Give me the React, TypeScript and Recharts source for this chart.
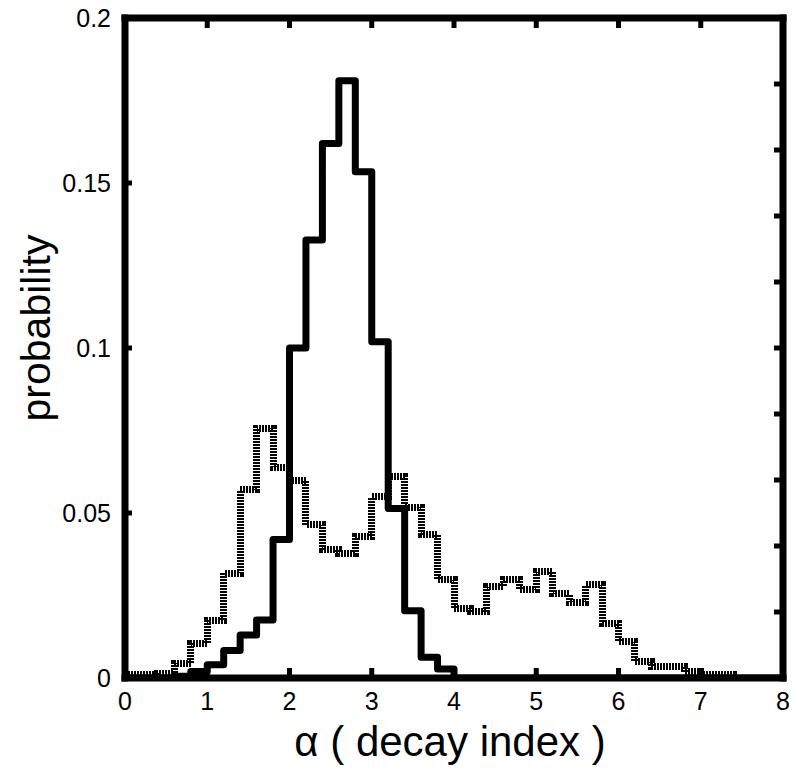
import React from 'react';
import { LineChart, Line, XAxis, YAxis, Label } from 'recharts';

// Histogram bin left edges (last value is the closing right edge)
const binStarts = [
  0, 0.2, 0.4, 0.6, 0.8, 1.0, 1.2, 1.4, 1.6, 1.8,
  2.0, 2.2, 2.4, 2.6, 2.8, 3.0, 3.2, 3.4, 3.6, 3.8,
  4.0, 4.2, 4.4, 4.6, 4.8, 5.0, 5.2, 5.4, 5.6, 5.8,
  6.0, 6.2, 6.4, 6.6, 6.8, 7.0, 7.2, 7.4, 7.6, 7.8, 8.0,
];

// Solid histogram probabilities
const solidProb = [
  0, 0, 0, 0.0005, 0.002, 0.004, 0.0083, 0.013, 0.0176, 0.042,
  0.1, 0.1327, 0.162, 0.181, 0.1534, 0.1019, 0.0514, 0.0204, 0.0063, 0.0027,
  0, 0, 0, 0, 0, 0, 0, 0, 0, 0,
  0, 0, 0, 0, 0, 0, 0, 0, 0, 0, 0,
];

// Dotted histogram probabilities
const dottedProb = [
  0.001, 0.001, 0.0015, 0.0044, 0.0105, 0.0175, 0.0317, 0.057, 0.0757, 0.0638,
  0.06, 0.0464, 0.0388, 0.0378, 0.0428, 0.0549, 0.061, 0.0517, 0.0434, 0.0297,
  0.0211, 0.0201, 0.0277, 0.0297, 0.0267, 0.0322, 0.0255, 0.0229, 0.0282, 0.0166,
  0.011, 0.0049, 0.0034, 0.0034, 0.0019, 0.001, 0.001, 0, 0, 0, 0,
];

const xTicks = [0, 1, 2, 3, 4, 5, 6, 7, 8];
const yTicks = [0, 0.05, 0.1, 0.15, 0.2];
const rightTicks = [0, 0.02, 0.04, 0.06, 0.08, 0.1, 0.12, 0.14, 0.16, 0.18, 0.2];

const xLabelText = 'α ( decay index )';
const yLabelText = 'probability';

const data = binStarts.map((x, i) => ({ x, solid: solidProb[i], dotted: dottedProb[i] }));

const FONT = '"Liberation Sans", Arial, Helvetica, sans-serif';
const axisLineStyle = { stroke: '#000', strokeWidth: 7, strokeLinecap: 'square' as const };
const tickLineStyle = { stroke: '#000', strokeWidth: 5 };
const tickFont = { fill: '#000', fontSize: 25, fontFamily: FONT };

export default function App() {
  return (
    <div style={{ position: 'absolute', left: 0, top: 0, width: 798, height: 773, background: '#fff' }}>
      <LineChart width={798} height={773} data={data} margin={{ top: 17, right: 14, bottom: 0, left: 0 }}>
        <XAxis
          xAxisId="x"
          dataKey="x"
          type="number"
          domain={[0, 8]}
          ticks={xTicks}
          allowDataOverflow
          height={95}
          axisLine={axisLineStyle}
          tickLine={tickLineStyle}
          tickSize={-10}
          tickMargin={24}
          tick={tickFont}
          interval={0}
        >
          <Label
            content={() => (
              <text
                x={450}
                y={756}
                textAnchor="middle"
                fontSize={42}
                fontFamily={FONT}
                fill="#000"
              >
                {xLabelText}
              </text>
            )}
          />
        </XAxis>
        <XAxis
          xAxisId="top"
          orientation="top"
          dataKey="x"
          type="number"
          domain={[0, 8]}
          ticks={xTicks}
          allowDataOverflow
          height={1}
          axisLine={axisLineStyle}
          tickLine={tickLineStyle}
          tickSize={-10}
          tickFormatter={() => ''}
          interval={0}
        />
        <YAxis
          yAxisId="y"
          type="number"
          domain={[0, 0.2]}
          ticks={yTicks}
          allowDataOverflow
          width={125}
          axisLine={axisLineStyle}
          tickLine={tickLineStyle}
          tickSize={-7}
          tickMargin={21}
          tick={tickFont}
          interval={0}
        >
          <Label
            content={() => (
              <text
                transform="translate(50,328) rotate(-90)"
                textAnchor="middle"
                fontSize={41}
                fontFamily={FONT}
                fill="#000"
              >
                {yLabelText}
              </text>
            )}
          />
        </YAxis>
        <YAxis
          yAxisId="r"
          orientation="right"
          type="number"
          domain={[0, 0.2]}
          ticks={rightTicks}
          allowDataOverflow
          width={1}
          axisLine={axisLineStyle}
          tickLine={tickLineStyle}
          tickSize={-9}
          tickFormatter={() => ''}
          interval={0}
        />
        <Line
          xAxisId="x"
          yAxisId="y"
          type="stepAfter"
          dataKey="dotted"
          stroke="#000"
          strokeWidth={7}
          strokeDasharray="2 1"
          shapeRendering="crispEdges"
          dot={false}
          activeDot={false}
          isAnimationActive={false}
        />
        <Line
          xAxisId="x"
          yAxisId="y"
          type="stepAfter"
          dataKey="solid"
          stroke="#000"
          strokeWidth={7}
          strokeLinejoin="round"
          dot={false}
          activeDot={false}
          isAnimationActive={false}
        />
      </LineChart>
    </div>
  );
}
